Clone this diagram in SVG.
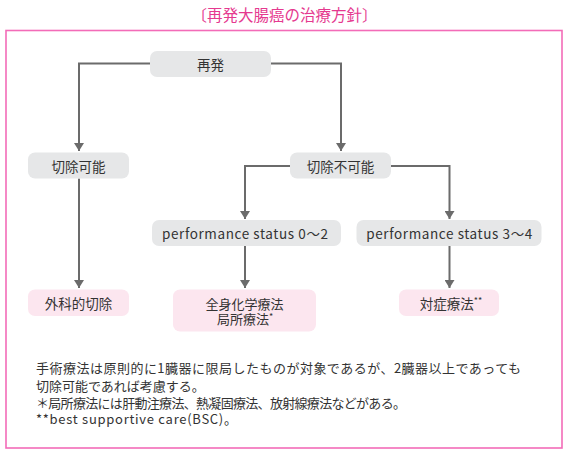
<svg xmlns="http://www.w3.org/2000/svg" width="570" height="455" viewBox="0 0 570 455">
<defs>
<style>
text{font-family:"Noto Sans CJK JP","Noto Sans",sans-serif;fill:#333;}
.lbl{font-size:13.5px;text-anchor:middle;dominant-baseline:central;}
.g{fill:#e6e7e8;}
.p{fill:#fce6ef;}
.c{fill:none;stroke:#6b6b6b;stroke-width:2;marker-end:url(#ah);}
.fn{font-size:13px;dominant-baseline:central;}
.sup{font-size:9px;}
</style>
<marker id="ah" viewBox="0 0 8 10" markerUnits="userSpaceOnUse" markerWidth="8" markerHeight="10" refX="8" refY="5" orient="auto">
<path d="M0,0 L8,5 L0,10 z" fill="#6b6b6b"/>
</marker>
</defs>
<rect width="570" height="455" fill="#fff"/>
<text x="284.5" y="14" style="font-size:15.5px;fill:#e5398f;text-anchor:middle;dominant-baseline:central;">〔再発大腸癌の治療方針〕</text>
<rect x="6" y="30.5" width="556" height="417.5" fill="none" stroke="#f36cb8" stroke-width="1.6"/>
<g id="connectors">
<path class="c" d="M150,63.5 H79 V151"/>
<path class="c" d="M271,63.5 H341 V151"/>
<path class="c" d="M290,166 H245 V219"/>
<path class="c" d="M391,166 H449.5 V219"/>
<path class="c" d="M79,178.5 V288"/>
<path class="c" d="M245,246 V288"/>
<path class="c" d="M449.5,246 V288"/>
</g>
<g id="n_saihatsu"><rect class="g" x="150" y="51" width="121" height="26" rx="7"/><text class="lbl" x="210.5" y="64">再発</text></g>
<g id="n_kajo"><rect class="g" x="28" y="152.5" width="101" height="26" rx="7"/><text class="lbl" x="78.5" y="165.5">切除可能</text></g>
<g id="n_fukano"><rect class="g" x="290" y="152.5" width="101" height="26" rx="7"/><text class="lbl" x="340.5" y="165.5">切除不可能</text></g>
<g id="n_ps02"><rect class="g" x="152" y="220" width="189" height="26" rx="7"/><text class="lbl" x="245" y="233" textLength="166" lengthAdjust="spacing">performance status 0〜2</text></g>
<g id="n_ps34"><rect class="g" x="356.5" y="220" width="185" height="26" rx="7"/><text class="lbl" x="449.3" y="233" textLength="166" lengthAdjust="spacing">performance status 3〜4</text></g>
<g id="n_geka"><rect class="p" x="28" y="289.5" width="101" height="26.5" rx="7"/><text class="lbl" x="78.5" y="303">外科的切除</text></g>
<g id="n_zenshin"><rect class="p" x="173" y="289.5" width="143" height="42" rx="7"/><text class="lbl" x="244.5" y="303.5" style="font-size:13px">全身化学療法</text><text class="lbl" x="245" y="318.5" style="font-size:13px">局所療法<tspan class="sup" dy="-3">*</tspan></text></g>
<g id="n_taisho"><rect class="p" x="399" y="289.5" width="100" height="26.5" rx="7"/><text class="lbl" x="451" y="303">対症療法<tspan class="sup" dy="-3">**</tspan></text></g>
<g id="notes">
<text class="fn" x="36" y="367" textLength="485" lengthAdjust="spacing">手術療法は原則的に1臓器に限局したものが対象であるが、2臓器以上であっても</text>
<text class="fn" x="36" y="385">切除可能であれば考慮する。</text>
<text class="fn" x="36" y="402" textLength="370" lengthAdjust="spacing">＊局所療法には肝動注療法、熱凝固療法、放射線療法などがある。</text>
<text class="fn" x="36" y="418" textLength="201" lengthAdjust="spacing">**best supportive care(BSC)。</text>
</g>
</svg>
